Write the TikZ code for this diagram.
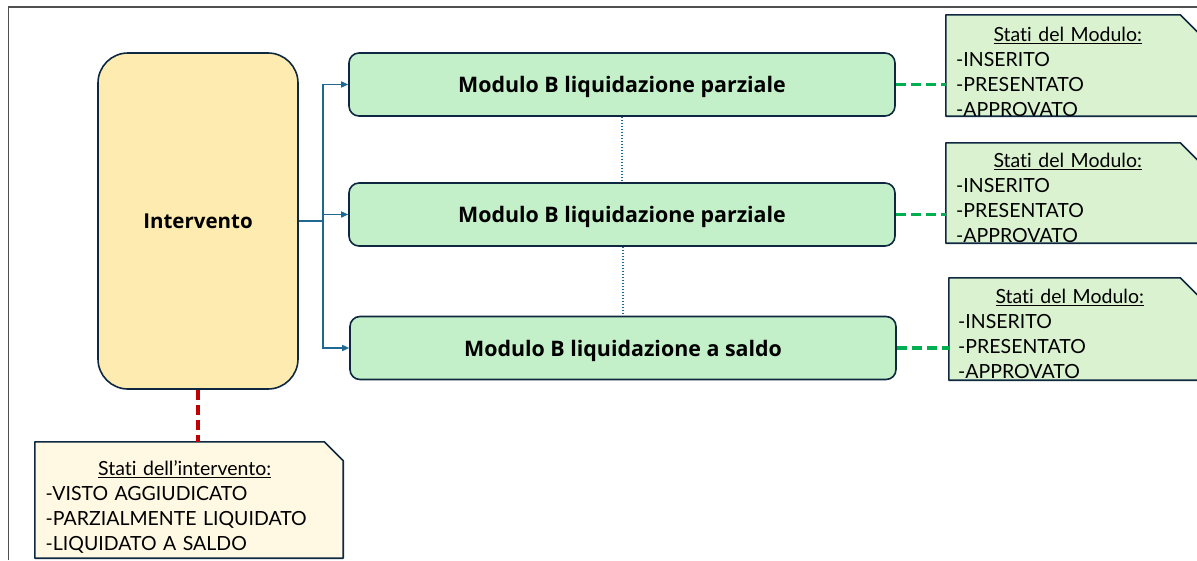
\documentclass[tikz,border=0pt]{standalone}
\usepackage{fontspec}
\setmainfont{Lato}[Ligatures={NoCommon}]
\newfontfamily\grassetto{Open Sans}[BoldFont={* Bold}]
\usetikzlibrary{arrows.meta}

\definecolor{bordo}{HTML}{0E2841}
\definecolor{giallo}{HTML}{FEEBB0}
\definecolor{verdemod}{HTML}{C3F0C8}
\definecolor{verdenota}{HTML}{DAF2D0}
\definecolor{crema}{HTML}{FFF8E3}
\definecolor{blu}{HTML}{1F6890}
\definecolor{verde}{HTML}{00B050}
\definecolor{rosso}{HTML}{C00000}
\definecolor{cornice}{HTML}{505050}

\newcommand{\intestazione}[1]{{\centering\rule{0pt}{15pt}\underline{#1}\par}}

\begin{document}
\begin{tikzpicture}
[x=1pt, y=-1pt,
 intervento/.style={rectangle, rounded corners=30pt, draw=bordo, fill=giallo, line width=1.6pt, minimum width=200pt, minimum height=336pt, text depth=0pt, font=\grassetto\fontsize{20.5}{24}\selectfont\bfseries},
 modulo/.style={rectangle, rounded corners=10pt, draw=bordo, fill=verdemod, line width=1.6pt, minimum width=546pt, minimum height=63pt, text depth=0pt, font=\grassetto\fontsize{21.4}{24}\selectfont\bfseries},
 nota/.style={rectangle, inner sep=0pt},
 bordonota/.style={draw=bordo, line width=1.6pt, fill=verdenota, line join=round},
 testonota/.style={anchor=north west, inner sep=0pt, align=left, text width=223pt, font=\fontsize{19.5}{25}\selectfont},
 ramo/.style={draw=blu, line width=1.5pt, -{Triangle[length=7pt,width=6pt]}},
 puntini/.style={draw=blu, line width=1.5pt, dash pattern=on 1.5pt off 1.5pt},
 tratto/.style={line width=3.5pt, dash pattern=on 10pt off 5pt},
]

\useasboundingbox (0,0) rectangle (1197,560);

%cornice
\draw[cornice, line width=1pt] (8,560) -- (8,7);
\draw[cornice, line width=2pt] (8,7) -- (1197,7);

%Intervento
\node[intervento] (iv) at (198,221) {Intervento};

%Moduli B
\node[modulo] (m1) at (622,84.5) {Modulo B liquidazione parziale};
\node[modulo] (m2) at (622,214.5) {Modulo B liquidazione parziale};
\node[modulo] (m3) at (623,348) {Modulo B liquidazione a saldo};

%rami
\coordinate (hub) at (323,221);
\draw[blu, line width=2.5pt] (iv.east) -- (hub);
\draw[ramo] (hub) |- (m1.west);
\draw[ramo] (hub) |- (m2.west);
\draw[ramo] (hub) |- (m3.west);

%puntini tra i moduli
\draw[puntini] (m1.south) -- (m2.north);
\draw[puntini] (m2.south -| m3.north) -- (m3.north);

%stati del modulo
\node[nota, minimum width=253pt, minimum height=101pt] (n1) at (1072.5,65.5) {};
\node[nota, minimum width=253pt, minimum height=100pt] (n2) at (1072.5,193) {};
\node[nota, minimum width=250pt, minimum height=102pt] (n3) at (1074,329) {};
\node[nota, minimum width=308pt, minimum height=116pt] (sn) at (189,500) {};

\foreach \n/\c in {n1/verdenota, n2/verdenota, n3/verdenota, sn/crema}
  \draw[bordonota, fill=\c] (\n.south west) -- (\n.north west) -- ([xshift=-19pt]\n.north east)
    -- ([yshift=-19pt]\n.north east) -- (\n.south east) -- cycle;

\node[testonota] (t1) at (956,26) {\intestazione{Stati del Modulo:}-INSERITO\\-PRESENTATO\\-APPROVATO};
\node[testonota] (t2) at (956,152) {\intestazione{Stati del Modulo:}-INSERITO\\-PRESENTATO\\-APPROVATO};
\node[testonota] (t3) at (958,288.5) {\intestazione{Stati del Modulo:}-INSERITO\\-PRESENTATO\\-APPROVATO};
\node[testonota, text width=278pt] (ts) at (45.5,460) {\intestazione{Stati dell’intervento:}-VISTO AGGIUDICATO\\-PARZIALMENTE LIQUIDATO\\-LIQUIDATO A SALDO};

\draw[verde, tratto] (m1.east) -- (m1.east -| n1.west);
\draw[verde, tratto] (m2.east) -- (m2.east -| n2.west);
\draw[verde, tratto] (m3.east) -- (m3.east -| n3.west);

%stati dell'intervento
\draw[rosso, tratto] (iv.south) -- (iv.south |- sn.north);

\end{tikzpicture}
\end{document}
